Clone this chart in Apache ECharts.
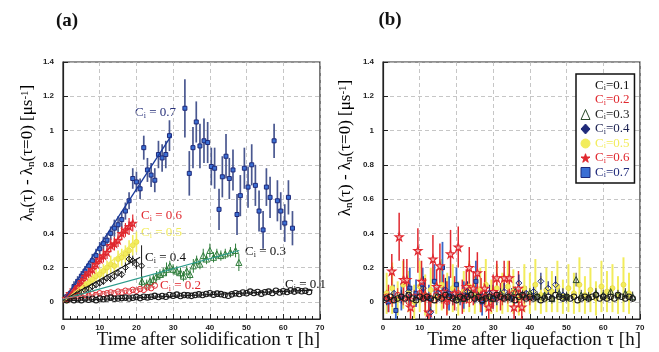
<!DOCTYPE html>
<html><head><meta charset="utf-8">
<script src="https://cdn.jsdelivr.net/npm/echarts@6/dist/echarts.min.js"></script>
<style>html,body{margin:0;padding:0;background:#fff}#c{width:659px;height:352px}</style>
</head><body><div id="c"></div>
<script>
// ---------- tick labels ----------
const xTicks = [0,10,20,30,40,50,60,70];
const yTicks = [0,0.2,0.4,0.6,0.8,1,1.2,1.4];
const seriesNames = ['C=0.1','C=0.2','C=0.3','C=0.4','C=0.5','C=0.6','C=0.7'];

// ---------- panel (a): after solidification ----------
const a1x = [1,2,3,4,5,6,7,8,9,10,11,12,13,14,15,16,17,18,19,20,21,22,23,24,25,26,27,28,29,30,31,32,33,34,35,36,37,38,39,40,41,42,43,44,45,46,47,48,49,50,51,52,53,54,55,56,57,58,59,60,61,62,63,64,65,66,67];
const a1y = [0.01,0.02,0.01,0.015,0.01,0.02,0.012,0.018,0.01,0.02,0.015,0.02,0.025,0.018,0.02,0.022,0.025,0.02,0.024,0.028,0.022,0.03,0.026,0.03,0.035,0.028,0.034,0.03,0.04,0.036,0.042,0.034,0.04,0.038,0.035,0.04,0.044,0.04,0.046,0.05,0.042,0.048,0.045,0.04,0.036,0.044,0.05,0.046,0.055,0.05,0.06,0.052,0.058,0.048,0.056,0.06,0.052,0.065,0.055,0.062,0.058,0.066,0.06,0.068,0.062,0.065,0.058];
const a2x = [1,2,3,4,5,6,7,8,9,10,11,12,13,14,15,16,17,18,19,20,21,22,23,24,25];
const a2y = [0.02,0.03,0.025,0.035,0.03,0.04,0.035,0.045,0.04,0.05,0.045,0.05,0.055,0.05,0.06,0.055,0.065,0.06,0.07,0.065,0.075,0.07,0.085,0.08,0.095];
const a3x = [21.5,22.8,23.7,24.6,25.5,26.4,27.3,28.2,29.1,30,31,32,32.8,33.7,34.6,35.5,36.4,37.3,38.2,39.1,40,41,41.9,43,44.2,45.6,47,47.9];
const a3y = [0.12,0.10,0.12,0.13,0.15,0.16,0.17,0.19,0.21,0.19,0.18,0.17,0.15,0.18,0.16,0.21,0.24,0.22,0.27,0.25,0.30,0.26,0.28,0.27,0.28,0.29,0.30,0.23];
const a3e = [0.03,0.03,0.03,0.03,0.03,0.03,0.03,0.04,0.03,0.03,0.03,0.03,0.03,0.03,0.03,0.04,0.03,0.03,0.04,0.03,0.04,0.03,0.03,0.03,0.03,0.03,0.04,0.05];
const a4x = [1,2,3,4,5,6,7,8,9,10,11,12,13,14,15,16,17,18,19,20,21.4];
const a4y = [0.02,0.03,0.035,0.05,0.055,0.07,0.075,0.09,0.1,0.11,0.12,0.14,0.135,0.15,0.17,0.16,0.2,0.25,0.24,0.22,0.21];
const a4e = [0.02,0.02,0.02,0.02,0.02,0.02,0.02,0.02,0.02,0.02,0.02,0.02,0.02,0.02,0.02,0.02,0.03,0.03,0.03,0.03,0.12];
const a5x = [1,2,3,4,5,6,7,8,9,10,11,12,13,14,15,16,17,18,19,20];
const a5y = [0.02,0.04,0.05,0.07,0.08,0.1,0.11,0.13,0.15,0.16,0.18,0.2,0.22,0.21,0.25,0.26,0.28,0.3,0.33,0.35];
const a5e = [0.03,0.03,0.03,0.03,0.04,0.04,0.04,0.04,0.04,0.04,0.04,0.04,0.05,0.05,0.05,0.05,0.05,0.06,0.06,0.06];
const a6x = [1,2,3,4,5,6,7,8,9,10,11,12,13,14,15,16,17,18,19];
const a6y = [0.02,0.05,0.07,0.09,0.12,0.15,0.17,0.19,0.22,0.25,0.27,0.29,0.33,0.34,0.36,0.40,0.42,0.44,0.46];
const a6e = [0.02,0.02,0.03,0.03,0.03,0.03,0.03,0.03,0.03,0.03,0.04,0.04,0.04,0.04,0.04,0.04,0.04,0.05,0.05];
const a7x = [1,2,3,4,5,6,7,8,9,10,11,12,13,14,15,16,17,18,19,20,21,22,23,24,25,26,27,28,29,33.2,34.4,35.4,36.3,37.3,38.4,39.4,40.4,41.3,42.5,43.4,44.4,45.3,46.3,47.4,48.3,49.4,50.4,51.4,52.4,53.4,54.5,55.4,56.4,57.5,58.4,59.3,60.4,61.4,62.5];
const a7y = [0.03,0.05,0.09,0.12,0.15,0.18,0.21,0.24,0.27,0.31,0.34,0.36,0.40,0.43,0.45,0.48,0.53,0.59,0.72,0.70,0.66,0.90,0.77,0.74,0.71,0.86,0.84,0.86,0.97,1.13,0.75,0.90,1.05,0.91,0.94,0.93,0.79,0.78,0.54,0.73,0.85,0.72,0.77,0.51,0.62,0.78,0.67,0.80,0.68,0.53,0.42,0.67,0.61,0.94,0.59,0.53,0.46,0.61,0.43];
const a7e = [0.02,0.02,0.03,0.03,0.03,0.03,0.03,0.04,0.04,0.04,0.04,0.04,0.04,0.05,0.05,0.05,0.05,0.05,0.06,0.06,0.06,0.07,0.07,0.07,0.07,0.08,0.08,0.08,0.09,0.17,0.13,0.12,0.12,0.13,0.13,0.12,0.11,0.12,0.12,0.12,0.13,0.12,0.12,0.12,0.12,0.12,0.12,0.12,0.12,0.12,0.11,0.11,0.12,0.1,0.12,0.11,0.11,0.1,0.1];
// fitted lines (a): [x, y] end points
const fit1 = [[0,0.005],[68,0.068]];
const fit2 = [[0,0.02],[25,0.09]];
const fit3 = [[0,0.016],[48,0.30]];
const fit4 = [[0,0.01],[21,0.26]];
const fit5 = [[0,0.0],[20,0.36]];
const fit6 = [[0,0.0],[19,0.47]];
const fit7 = [[0,0.0],[29.5,0.97]];

// ---------- panel (b): after liquefaction ----------
const b1x = [1,2,3,4,5,6,7,8,9,10,11,12,13,14,15,16,17,18,19,20,21,22,23,24,25,26,27,28,29,30,31,32,33,34,35,36,37,38,39,40,41,42,43,44,45,46,47,48,49,50,51,52,53,54,55,56,57,58,59,60,61,62,63,64,65,66,67,68];
const b1y = [0.02,0.03,0.01,0.02,0.03,0.02,0.04,0.02,0.01,0.03,0.02,0.03,0.02,0.01,0.03,0.02,0.04,0.03,0.02,0.01,0.03,0.02,0.03,0.04,0.02,0.03,0.01,0.02,0.03,0.02,0.04,0.03,0.02,0.03,0.02,0.01,0.03,0.04,0.02,0.03,0.02,0.03,0.01,0.02,0.03,0.02,0.04,0.03,0.02,0.03,0.02,0.03,0.01,0.02,0.03,0.02,0.03,0.04,0.02,0.03,0.02,0.03,0.02,0.04,0.03,0.02,0.03,0.02];
const b2x = [1,2.5,4,5.5,7,8.5,10,11.5,13,14.5,16,17.5,19,20.5,22,23.5,25,26.5,28,29.5,31,32.5,34,35.5,37,38.5,40];
const b2y = [0.03,0.01,0.04,0.02,0.0,0.03,0.05,0.02,0.01,0.04,0.03,0.0,0.02,0.05,0.03,0.01,0.04,0.02,0.03,0.0,0.04,0.02,0.03,0.05,0.01,0.03,0.02];
const b2e = [0.04,0.04,0.04,0.04,0.04,0.04,0.04,0.04,0.04,0.04,0.04,0.04,0.04,0.04,0.04,0.04,0.04,0.04,0.04,0.04,0.04,0.04,0.04,0.04,0.04,0.04,0.04];
const b3x = [20,22,24,26,28,30,32,34,36,38,40,42,44,46,48,50,52.6,54,56,58,60,62,64,66,68];
const b3y = [0.03,0.02,0.05,0.03,0.04,0.02,0.05,0.03,0.06,0.04,0.05,0.03,0.04,0.02,0.05,0.03,0.13,0.04,0.03,0.05,0.04,0.06,0.04,0.05,0.03];
const b3e = [0.03,0.03,0.03,0.03,0.03,0.03,0.03,0.03,0.03,0.03,0.03,0.03,0.03,0.03,0.03,0.03,0.04,0.03,0.03,0.03,0.03,0.03,0.03,0.03,0.03];
const b4x = [1,3,5,7,9,11,13,15,17,19,21,23,25,27,29,31,33,35,37,39,41,43,45,47,49];
const b4y = [0.02,0.05,0.03,0.06,0.02,0.08,-0.06,0.05,0.07,0.03,0.02,0.06,0.04,0.03,0.05,0.02,0.06,0.04,0.11,0.05,0.06,0.12,0.08,0.1,0.04];
const b4e = [0.04,0.05,0.04,0.06,0.04,0.07,0.05,0.05,0.07,0.05,0.04,0.06,0.05,0.04,0.05,0.04,0.05,0.04,0.05,0.04,0.05,0.05,0.04,0.05,0.04];
const b5x = [1,2.5,4,5.5,7,8.5,10,11.5,13,14.5,16,17.5,19,20.5,22,23.5,25,26.5,28,29.5,31,32.5,34,35.5,37,38.5,40,41.5,43,44.5,46,47.5,49,50.5,52,53.5,55,56.5,58,59.5,61,62.5,64,65.5,67];
const b5y = [0.05,0.08,0.02,0.1,0.06,0.0,0.09,0.04,0.07,0.03,0.1,0.05,0.08,0.02,0.06,0.09,0.04,0.07,0.1,0.03,0.08,0.05,0.09,0.06,0.02,0.08,0.05,0.1,0.04,0.07,0.06,0.09,0.03,0.08,0.05,0.1,0.04,0.07,0.02,0.09,0.06,0.08,0.04,0.1,0.05];
const b5e = [0.12,0.15,0.1,0.14,0.12,0.1,0.15,0.12,0.13,0.1,0.15,0.12,0.14,0.1,0.12,0.15,0.11,0.13,0.15,0.1,0.14,0.12,0.15,0.13,0.1,0.14,0.12,0.15,0.11,0.13,0.12,0.15,0.1,0.14,0.12,0.16,0.11,0.13,0.1,0.15,0.12,0.14,0.11,0.16,0.12];
const b6x = [1.5,2.4,4.4,5.6,6.5,7.5,9.5,10.5,11.5,12.5,13.6,14.6,15.5,16.5,17.4,18.4,19.5,20.5,21.6,22.7,23.5,24.6,25.7,26.7,27.7,28.8,30,31,32,33,34.4,35.7,36.9,37.8];
const b6y = [0.02,0.18,0.38,0.13,0.13,-0.03,0.3,0.12,0.04,-0.06,0.25,0.09,0.21,0.06,0.02,0.28,0.05,0.32,0.03,0.09,0.2,0.08,0.17,0.04,0.08,-0.03,0.06,0.14,0.03,0.14,0.14,-0.03,0.08,-0.03];
const b6e = [0.08,0.1,0.14,0.12,0.12,0.1,0.13,0.12,0.1,0.1,0.14,0.1,0.13,0.1,0.1,0.14,0.1,0.12,0.1,0.1,0.12,0.1,0.12,0.1,0.1,0.08,0.1,0.1,0.08,0.1,0.1,0.08,0.1,0.08];
const b7x = [1.5,3.5,5,7.3,9,10.8,12.5,14,16.2,18,20,22,25.3,27,30];
const b7y = [0.0,-0.05,0.03,0.08,0.05,0.1,0.02,0.12,0.2,0.05,0.1,0.04,0.12,0.0,0.03];
const b7e = [0.06,0.06,0.08,0.12,0.08,0.1,0.08,0.1,0.15,0.1,0.1,0.08,0.12,0.08,0.07];

// ---------- styling ----------
const BLACK='#1a1a1a', RED='#e0282f', GREEN='#2e7d3a', NAVY='#1f2a7a', BLUE='#3b6fd4', YEL='#f2ec5c', TEAL='#2a9a8a';
const STAR='path://M50,0 L61,35 L98,35 L68,57 L79,91 L50,70 L21,91 L32,57 L2,35 L39,35 Z';
const SERIF='"Liberation Serif","DejaVu Serif",serif';

const chart = echarts.init(document.getElementById('c'), null, {renderer:'canvas'});
const series = [];
function err(name, gi, xs, ys, es, color, w){
  series.push({type:'custom', name, xAxisIndex:gi, yAxisIndex:gi, clip:true, silent:true, z:2,
    data: xs.map((x,i)=>[x, ys[i]-es[i], ys[i]+es[i]]),
    renderItem:(p,api)=>{const a=api.coord([api.value(0),api.value(1)]),b=api.coord([api.value(0),api.value(2)]);
      return {type:'line', shape:{x1:a[0],y1:a[1],x2:b[0],y2:b[1]}, style:{stroke:color,lineWidth:w}};}});
}
function pts(name, gi, xs, ys, symbol, size, fill, border, bw){
  series.push({type:'scatter', name, xAxisIndex:gi, yAxisIndex:gi, clip:true, silent:true, z:3,
    data: xs.map((x,i)=>[x, ys[i]]), symbol, symbolSize:size,
    itemStyle:{color:fill, borderColor:border, borderWidth:bw, opacity:1}});
}
function fit(name, gi, d, color, w){
  series.push({type:'line', name, xAxisIndex:gi, yAxisIndex:gi, data:d, symbol:'none', silent:true, z:4,
    lineStyle:{color, width:w}});
}
// panel a
err('C=0.5',0,a5x,a5y,a5e,YEL,1.6); pts('C=0.5',0,a5x,a5y,'circle',5,YEL,'#e8d840',0.8);
err('C=0.7',0,a7x,a7y,a7e,'#4a5890',1.7); pts('C=0.7',0,a7x,a7y,'rect',4,BLUE,NAVY,1);
err('C=0.6',0,a6x,a6y,a6e,RED,1.2); pts('C=0.6',0,a6x,a6y,STAR,7,'rgba(255,255,255,0)',RED,1.2);
err('C=0.4',0,a4x,a4y,a4e,BLACK,1); pts('C=0.4',0,a4x,a4y,'diamond',6,'rgba(255,255,255,0)',BLACK,1);
err('C=0.3',0,a3x,a3y,a3e,GREEN,1); pts('C=0.3',0,a3x,a3y,'triangle',6,'rgba(255,255,255,0)',GREEN,1);
pts('C=0.2',0,a2x,a2y,'circle',5.5,'rgba(255,255,255,0)',RED,1);
pts('C=0.1',0,a1x,a1y,'circle',5.5,'rgba(255,255,255,0)',BLACK,1.1);
fit('C=0.7',0,fit7,'#1a3a9a',1.3); fit('C=0.6',0,fit6,RED,1.3); fit('C=0.5',0,fit5,YEL,1.2);
fit('C=0.4',0,fit4,BLACK,1.1); fit('C=0.3',0,fit3,TEAL,1.1); fit('C=0.2',0,fit2,'#e07070',1); fit('C=0.1',0,fit1,BLACK,1.2);
// panel b
err('C=0.5',1,b5x,b5y,b5e,YEL,2); pts('C=0.5',1,b5x,b5y,'circle',5,YEL,'#e8d840',0.8);
err('C=0.7',1,b7x,b7y,b7e,'#3a68c8',1.8); pts('C=0.7',1,b7x,b7y,'rect',4,BLUE,NAVY,1);
err('C=0.6',1,b6x,b6y,b6e,RED,1.5); pts('C=0.6',1,b6x,b6y,STAR,8,'rgba(255,255,255,0.6)',RED,1.2);
err('C=0.4',1,b4x,b4y,b4e,NAVY,1.2); pts('C=0.4',1,b4x,b4y,'diamond',6,'rgba(255,255,255,0)',NAVY,1);
err('C=0.3',1,b3x,b3y,b3e,'#333',1); pts('C=0.3',1,b3x,b3y,'triangle',6,'rgba(255,255,255,0)','#2a4a2a',1);
err('C=0.2',1,b2x,b2y,b2e,RED,1); pts('C=0.2',1,b2x,b2y,'circle',5.5,'rgba(255,255,255,0)',RED,1);
pts('C=0.1',1,b1x,b1y,'circle',5.5,'rgba(255,255,255,0)',BLACK,1.1);

function xAxis(gi){return {gridIndex:gi, type:'value', min:0, max:70, interval:10,
  axisLine:{onZero:false, lineStyle:{color:'#222', width:1.2}},
  axisTick:{inside:true, length:5, lineStyle:{color:'#222'}},
  minorTick:{show:true, splitNumber:5, length:3, lineStyle:{color:'#222'}},
  axisLabel:{fontSize:8, fontWeight:'bold', color:'#222', margin:5, fontFamily:'"Liberation Sans",Arial,sans-serif', showMinLabel:true, showMaxLabel:true},
  splitLine:{show:true, lineStyle:{type:[4,3], color:'#b8b8b8', width:0.8}}};}
function yAxis(gi){return {gridIndex:gi, type:'value', min:-0.1, max:1.4,
  axisLine:{onZero:false, lineStyle:{color:'#222', width:1.2}},
  axisTick:{inside:true, length:5, customValues:yTicks, lineStyle:{color:'#222'}},
  axisLabel:{customValues:yTicks, fontSize:8, fontWeight:'bold', color:'#222', margin:9, fontFamily:'"Liberation Sans",Arial,sans-serif'},
  splitLine:{show:true, lineStyle:{type:[4,3], color:'#b8b8b8', width:0.8}}};}

const rich = {
  m:{fontSize:17, fontFamily:SERIF, color:'#111'},
  sb:{fontSize:11, fontFamily:SERIF, color:'#111', verticalAlign:'bottom', padding:[6,0,0,0]},
  sp:{fontSize:11, fontFamily:SERIF, color:'#111', verticalAlign:'top'}
};
const yTitle = '{m|λ}{sb|n}{m|(τ) - λ}{sb|n}{m|(τ=0) [μs}{sp|-1}{m|]}';
function lab(x,y,val,color){
  return {type:'text', x, y, silent:true, style:{text:'{c|C}{s|i}{t| = '+val+'}', verticalAlign:'middle', align:'left',
    rich:{c:{fontSize:13,fontFamily:SERIF,fill:color,color:color}, s:{fontSize:8,fontFamily:SERIF,fill:color,color:color,verticalAlign:'bottom'}, t:{fontSize:13,fontFamily:SERIF,fill:color,color:color}}}};
}

chart.setOption({
  animation:false,
  backgroundColor:'#fff',
  grid:[{left:63, top:62, width:257, height:257, show:true, borderColor:'#222', borderWidth:1.2},
        {left:383, top:62, width:257, height:257, show:true, borderColor:'#222', borderWidth:1.2}],
  xAxis:[xAxis(0), xAxis(1)],
  yAxis:[yAxis(0), yAxis(1)],
  legend:{orient:'vertical', left:576, top:74, itemGap:1.5, itemWidth:9, itemHeight:10, selectedMode:false,
    backgroundColor:'#fff', borderColor:'#111', borderWidth:1.5, padding:[5,5,4,4], borderRadius:0,
    data:[
      {name:'C=0.1', icon:'emptyCircle', itemStyle:{color:'#fff', borderColor:BLACK, borderWidth:1}, textStyle:{color:'#111'}},
      {name:'C=0.2', icon:'emptyCircle', itemStyle:{color:'#fff', borderColor:RED, borderWidth:1}, textStyle:{color:RED}},
      {name:'C=0.3', icon:'triangle', itemStyle:{color:'#fff', borderColor:'#2a4a2a', borderWidth:1}, textStyle:{color:'#222'}},
      {name:'C=0.4', icon:'diamond', itemStyle:{color:NAVY, borderColor:NAVY, borderWidth:1}, textStyle:{color:'#1a2050'}},
      {name:'C=0.5', icon:'circle', itemStyle:{color:YEL, borderColor:YEL, borderWidth:1}, textStyle:{color:YEL}},
      {name:'C=0.6', icon:STAR, itemStyle:{color:RED, borderColor:RED, borderWidth:1}, textStyle:{color:RED}},
      {name:'C=0.7', icon:'rect', itemStyle:{color:BLUE, borderColor:NAVY, borderWidth:1}, textStyle:{color:NAVY}}
    ],
    formatter: n => '{c|C}{s|i}{t|=' + n.split('=')[1] + '}',
    textStyle:{fontFamily:SERIF, fontSize:13, lineHeight:13,
      rich:{c:{fontSize:13, fontFamily:SERIF, lineHeight:13}, s:{fontSize:8, fontFamily:SERIF, verticalAlign:'bottom', lineHeight:13}, t:{fontSize:13, fontFamily:SERIF, lineHeight:13}}}
  },
  graphic:[
    {type:'text', x:67, y:21, silent:true, style:{text:'(a)', font:'bold 19px '+SERIF, fill:'#111', align:'center', verticalAlign:'middle'}},
    {type:'text', x:390, y:20, silent:true, style:{text:'(b)', font:'bold 19px '+SERIF, fill:'#111', align:'center', verticalAlign:'middle'}},
    {type:'text', x:28, y:153, rotation:Math.PI/2, silent:true, style:{text:yTitle, rich, align:'center', verticalAlign:'middle'}},
    {type:'text', x:346, y:148, rotation:Math.PI/2, silent:true, style:{text:yTitle, rich, align:'center', verticalAlign:'middle'}},
    {type:'text', x:320, y:340, silent:true, style:{text:'Time after solidification τ [h]', font:'19px '+SERIF, fill:'#111', align:'right', verticalAlign:'middle'}},
    {type:'text', x:641, y:340, silent:true, style:{text:'Time after liquefaction τ [h]', font:'19px '+SERIF, fill:'#111', align:'right', verticalAlign:'middle'}},
    lab(135,113,'0.7','#27307a'),
    lab(141,216,'0.6',RED),
    lab(141,233,'0.5',YEL),
    lab(145,258,'0.4','#111'),
    lab(245,252,'0.3','#111'),
    lab(160,286,'0.2',RED),
    lab(285,285,'0.1','#111')
  ],
  series
});
</script></body></html>
